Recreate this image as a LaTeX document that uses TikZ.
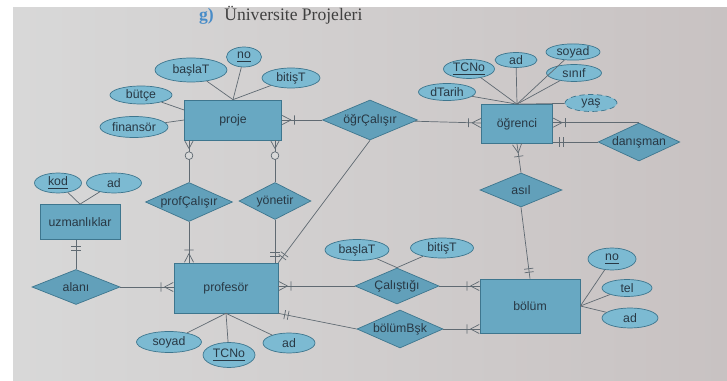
\documentclass[tikz,border=0pt]{standalone}
\usepackage{fontspec}
\setmainfont{Liberation Serif}
\setsansfont{Liberation Sans}
\usetikzlibrary{positioning,shapes.geometric,decorations.markings}

\definecolor{pagegray}{RGB}{216,216,216}
\definecolor{pagegray2}{RGB}{200,194,194}
\definecolor{boxfill}{RGB}{104,168,194}
\definecolor{boxline}{RGB}{62,118,142}
\definecolor{relfill}{RGB}{98,160,186}
\definecolor{attrfill}{RGB}{124,186,210}
\definecolor{linkgray}{RGB}{96,106,114}
\definecolor{inkdark}{RGB}{40,56,68}
\definecolor{gblue}{RGB}{72,140,200}

\begin{document}
\begin{tikzpicture}[x=0.02cm, y=-0.02cm,
    font=\sffamily\fontsize{7}{8}\selectfont,
    entity/.style={draw=boxline, fill=boxfill, text=inkdark, inner sep=0pt},
    rel/.style={diamond, draw=boxline, fill=relfill, text=inkdark, inner sep=0pt, aspect=2.4},
    attr/.style={ellipse, draw=boxline, fill=attrfill, text=inkdark, inner sep=0pt},
    link/.style={draw=linkgray, line width=0.4pt},
    onemany/.style={link, postaction={decorate}, decoration={markings,
        mark=at position -0.2pt with {\draw[linkgray, line width=0.4pt] (-5pt,0) -- (0,2.6pt) (-5pt,0) -- (0,-2.6pt) (-7pt,-2.6pt) -- (-7pt,2.6pt);}}},
    zeromany/.style={link, postaction={decorate}, decoration={markings,
        mark=at position -0.2pt with {\draw[linkgray, line width=0.4pt] (-4.5pt,0) -- (0,2.4pt) (-4.5pt,0) -- (0,-2.4pt);
            \draw[linkgray, line width=0.4pt, fill=pagegray] (-8.5pt,0) circle (2.2pt);}}},
    justone/.style={link, postaction={decorate}, decoration={markings,
        mark=at position -0.2pt with {\draw[linkgray, line width=0.4pt] (-3.5pt,-2.6pt) -- (-3.5pt,2.6pt) (-5.5pt,-2.6pt) -- (-5.5pt,2.6pt);}}}]

\fill[white] (0,0) rectangle (727,381);
\shade[left color=pagegray, right color=pagegray2] (13,8) rectangle (727,381);
\useasboundingbox (0,0) rectangle (727,381);

\node[anchor=west, font=\rmfamily\fontsize{10}{12}\selectfont, text=black!75] (title) at (193,15)
    {\textcolor{gblue}{\textbf{g)}}\hspace{6pt}Üniversite Projeleri};

\node[entity, minimum width=1.94cm, minimum height=0.8cm] (proje) at (233,120) {proje};
\node[entity, minimum width=1.42cm, minimum height=0.78cm] (ogrenci) at (517,124) {öğrenci};
\node[entity, minimum width=1.6cm, minimum height=0.7cm] (uzmanliklar) at (80,222) {uzmanlıklar};
\node[entity, minimum width=2.08cm, minimum height=1.0cm] (profesor) at (226,288) {profesör};
\node[entity, minimum width=2.0cm, minimum height=1.08cm] (bolum) at (530,306) {bölüm};

\node[rel, minimum width=1.9cm, minimum height=0.8cm] (ogrcalisir) at (370,120) {öğrÇalışır};
\node[rel, minimum width=1.74cm, minimum height=0.78cm] (profcalisir) at (189,202) {profÇalışır};
\node[rel, minimum width=1.44cm, minimum height=0.74cm] (yonetir) at (275,201) {yönetir};
\node[rel, minimum width=1.76cm, minimum height=0.7cm] (alani) at (76,287) {alanı};
\node[rel, minimum width=1.64cm, minimum height=0.68cm] (asil) at (521,190) {asıl};
\node[rel, minimum width=1.58cm, minimum height=0.76cm] (danisman) at (639,142) {danışman};
\node[rel, minimum width=1.68cm, minimum height=0.72cm] (calistigi) at (397,286) {Çalıştığı};
\node[rel, minimum width=1.72cm, minimum height=0.76cm] (bolumbsk) at (400,329) {bölümBşk};

\node[attr, minimum width=1.44cm, minimum height=0.48cm] (pbasla) at (191,70) {başlaT};
\node[attr, minimum width=0.7cm, minimum height=0.4cm] (pno) at (244,57) {\underline{no}};
\node[attr, minimum width=1.16cm, minimum height=0.4cm] (pbitis) at (291,78) {bitişT};
\node[attr, minimum width=1.24cm, minimum height=0.36cm] (pbutce) at (141,95) {bütçe};
\node[attr, minimum width=1.36cm, minimum height=0.42cm] (pfinans) at (134,127) {finansör};

\node[attr, minimum width=1.02cm, minimum height=0.38cm] (otcno) at (469,69) {\underline{TCNo}};
\node[attr, minimum width=0.84cm, minimum height=0.3cm] (oad) at (516,60) {ad};
\node[attr, minimum width=1.08cm, minimum height=0.32cm] (osoyad) at (573,52) {soyad};
\node[attr, minimum width=1.1cm, minimum height=0.34cm] (osinif) at (574,73) {sınıf};
\node[attr, minimum width=1.14cm, minimum height=0.34cm] (otarih) at (447,92) {dTarih};
\node[attr, densely dashed, minimum width=1.04cm, minimum height=0.34cm] (oyas) at (591,103) {yaş};

\node[attr, minimum width=0.94cm, minimum height=0.4cm] (ukod) at (58,183) {\underline{kod}};
\node[attr, minimum width=1.1cm, minimum height=0.4cm] (uad) at (114,183) {ad};

\node[attr, minimum width=1.3cm, minimum height=0.42cm] (psoyad) at (169,342) {soyad};
\node[attr, minimum width=1.04cm, minimum height=0.5cm] (ptcno) at (229,355) {\underline{TCNo}};
\node[attr, minimum width=1.04cm, minimum height=0.4cm] (pad) at (289,343) {ad};

\node[attr, minimum width=1.28cm, minimum height=0.42cm] (cbasla) at (357,250) {başlaT};
\node[attr, minimum width=1.26cm, minimum height=0.4cm] (cbitis) at (442,248) {bitişT};

\node[attr, minimum width=0.96cm, minimum height=0.44cm] (bno) at (612,259) {\underline{no}};
\node[attr, minimum width=1.0cm, minimum height=0.34cm] (btel) at (627,288) {tel};
\node[attr, minimum width=1.12cm, minimum height=0.4cm] (bad) at (630,318) {ad};

\draw[link] (pbasla) -- (proje.north);
\draw[link] (pno) -- (proje.north);
\draw[link] (pbitis) -- (proje.north);
\draw[link] (pbutce) -- ([yshift=0.2cm]proje.west);
\draw[link] (pfinans) -- (proje.west);
\draw[link] (otcno) -- (ogrenci.north);
\draw[link] (oad) -- (ogrenci.north);
\draw[link] (osoyad) -- (ogrenci.north);
\draw[link] (osinif) -- (ogrenci.north);
\draw[link] (otarih) -- (ogrenci.north);
\draw[link] (oyas) -- (ogrenci.north);
\draw[link] (ukod) -- (uzmanliklar.north);
\draw[link] (uad) -- (uzmanliklar.north);
\draw[link] (psoyad) -- (profesor.south);
\draw[link] (ptcno) -- (profesor.south);
\draw[link] (pad) -- (profesor.south);
\draw[link] (cbasla) -- (calistigi.north);
\draw[link] (cbitis) -- (calistigi.north);
\draw[link] (bno) -- (bolum.east);
\draw[link] (btel) -- (bolum.east);
\draw[link] (bad) -- (bolum.east);

\draw[onemany] (ogrcalisir) -- (proje);
\draw[onemany] (ogrcalisir) -- (ogrenci);
\draw[justone] (ogrcalisir.south) -- (profesor.north east);
\draw[zeromany] (profcalisir.north) -- (profcalisir.north |- proje.south);
\draw[zeromany] (yonetir.north) -- (yonetir.north |- proje.south);
\draw[onemany] (profcalisir.south) -- (profcalisir.south |- profesor.north);
\draw[justone] (yonetir.south) -- (yonetir.south |- profesor.north);
\draw[justone] (alani.north) -- (alani.north |- uzmanliklar.south);
\draw[onemany] (alani.east) -- (profesor.west |- alani.east);
\draw[onemany] (calistigi.west) -- (profesor.east |- calistigi.west);
\draw[onemany] (calistigi.east) -- (bolum.west |- calistigi.east);
\draw[justone] (bolumbsk.west) -- (profesor.south east);
\draw[onemany] (bolumbsk.east) -- (bolum.west |- bolumbsk.east);
\draw[onemany] (asil.north) -- (ogrenci.south);
\draw[justone] (asil.south) -- (bolum.north);
\draw[onemany] (danisman.north) -- (ogrenci.east |- danisman.north);
\draw[justone] (danisman.west) -- (ogrenci.east |- danisman.west);
\end{tikzpicture}
\end{document}
